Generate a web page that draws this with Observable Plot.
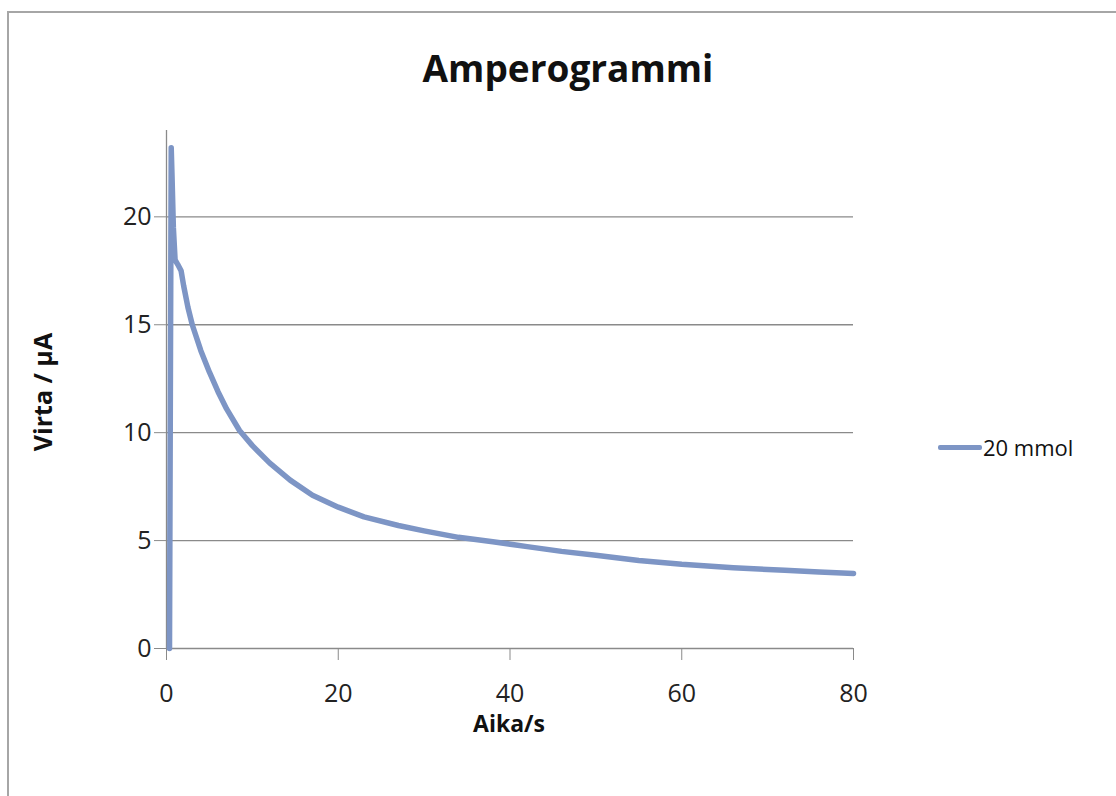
<!DOCTYPE html>
<html>
<head>
<meta charset="utf-8">
<script src="https://cdn.jsdelivr.net/npm/d3@7"></script>
<script src="https://cdn.jsdelivr.net/npm/@observablehq/plot@0.6"></script>
<style>
  html, body { margin: 0; padding: 0; background: #fff; }
  #wrap { position: relative; width: 1116px; height: 796px; overflow: hidden; background: #fff; font-family: "Open Sans", sans-serif; }
  #frame { position: absolute; left: 7px; top: 11px; width: 1300px; height: 1000px; border-left: 2px solid #a6a6a6; border-top: 2px solid #a6a6a6; }
  #title { position: absolute; left: 0; width: 1136px; top: 49px; text-align: center; font-weight: 700; font-size: 37px; color: #111; line-height: 1; }
  #chart { position: absolute; left: 0; top: 100px; }
  #ylabel { position: absolute; left: 42px; top: 392px; transform: translate(-50%, -50%) rotate(-90deg); font-weight: 700; font-size: 25px; color: #111; white-space: nowrap; }
  #xlabel { position: absolute; left: 509px; top: 723px; transform: translate(-50%, -50%); font-weight: 700; font-size: 23px; color: #111; white-space: nowrap; }
  #legend { position: absolute; left: 938px; top: 432px; display: flex; align-items: center; font-size: 22px; color: #111; }
  #legend .sw { width: 44px; height: 5px; background: #7d95c5; border-radius: 2px; margin-right: 1px; }
  #chart svg text { font-family: "Open Sans", sans-serif; }
</style>
</head>
<body>
<div id="wrap">
  <div id="frame"></div>
  <div id="title">Amperogrammi</div>
  <div id="chart"></div>
  <div id="ylabel">Virta / µA</div>
  <div id="xlabel">Aika/s</div>
  <div id="legend"><div class="sw"></div><span>20 mmol</span></div>
</div>
<script>
// Time (s)
const time = [0.35, 0.45, 0.55, 0.65, 0.8, 1.0, 1.3, 1.7, 2.0, 2.5, 3.0, 4.0, 5.0, 6.0, 7.0, 8.5, 10, 12, 14.4, 17, 20, 23, 27, 30, 34, 38, 42, 46, 50, 55, 60, 66, 72, 76, 80];
// Current (µA), series "20 mmol"
const current = [0, 12, 23.2, 21.8, 19.5, 18.0, 17.8, 17.5, 16.8, 15.8, 15.0, 13.8, 12.8, 11.9, 11.1, 10.1, 9.4, 8.6, 7.8, 7.1, 6.55, 6.1, 5.7, 5.45, 5.15, 4.95, 4.72, 4.5, 4.32, 4.08, 3.9, 3.74, 3.62, 3.55, 3.48];
const seriesName = "20 mmol";
const xTicks = [0, 20, 40, 60, 80];
const yTicks = [0, 5, 10, 15, 20];
const gridTicks = [5, 10, 15, 20];

const data = time.map((t, i) => ({t, v: current[i], s: seriesName}));

const chart = Plot.plot({
  width: 1116,
  height: 696,
  marginLeft: 166,
  marginRight: 263,
  marginTop: 30,
  marginBottom: 148,
  style: {background: "transparent", color: "#222", fontSize: "25px"},
  x: {domain: [0, 80]},
  y: {domain: [0, 24]},
  marks: [
    Plot.gridY(gridTicks, {stroke: "#8a8a8a", strokeOpacity: 1, strokeWidth: 1.3}),
    Plot.ruleX([0], {stroke: "#8a8a8a", strokeWidth: 1.3}),
    Plot.ruleY([0], {stroke: "#8a8a8a", strokeWidth: 1.3}),
    Plot.axisX(xTicks, {tickSize: 12, tickPadding: 24, stroke: "#8a8a8a", fill: "#222", label: null, fontSize: 25}),
    Plot.axisY(yTicks, {tickSize: 12, tickPadding: 3, stroke: "#8a8a8a", fill: "#222", label: null, fontSize: 25}),
    Plot.line(data, {x: "t", y: "v", stroke: "#7d95c5", strokeWidth: 5.5, strokeLinejoin: "round", strokeLinecap: "round"})
  ]
});
document.getElementById("chart").appendChild(chart);
</script>
</body>
</html>
